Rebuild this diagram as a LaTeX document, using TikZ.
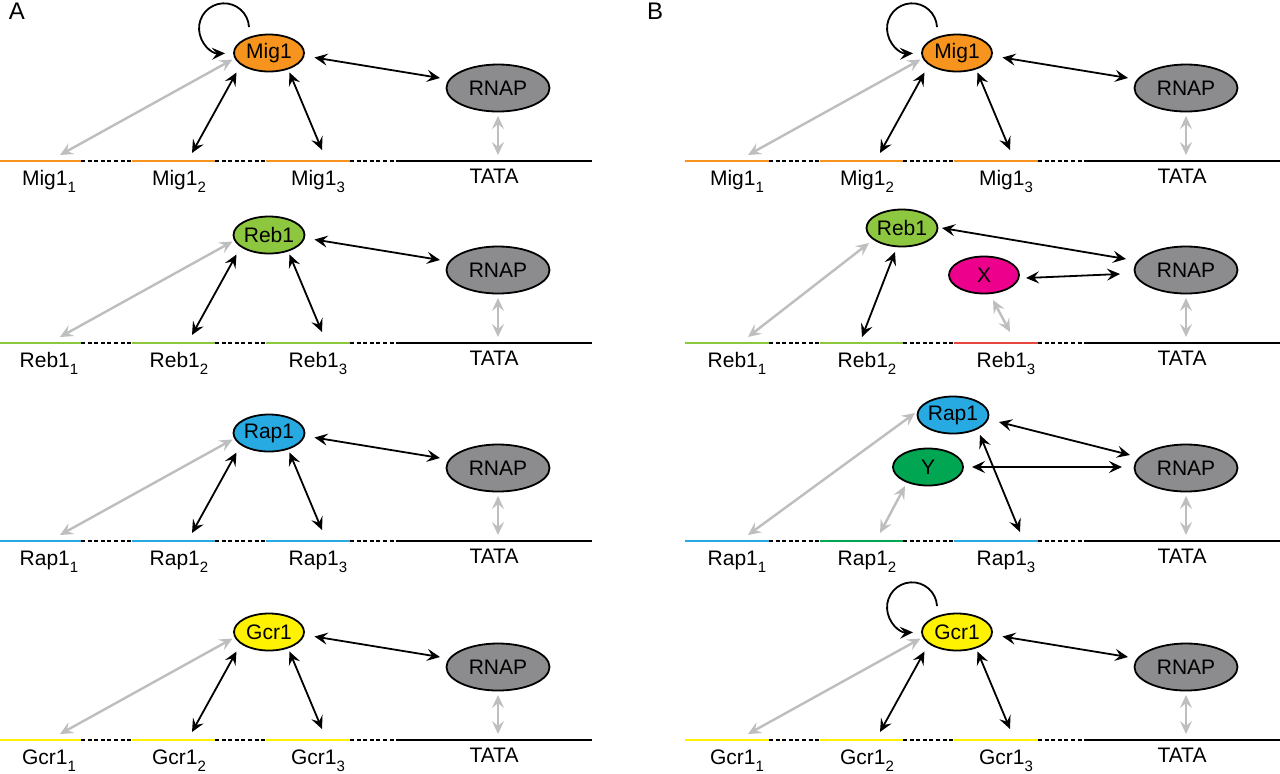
\documentclass[tikz,border=0pt]{standalone}
\usepackage{fontspec}
\setmainfont{Liberation Sans}
\usetikzlibrary{shapes,arrows.meta,positioning,calc}
\definecolor{migorange}{HTML}{F7941D}
\definecolor{rebgreen}{HTML}{8DC63F}
\definecolor{rapblue}{HTML}{27AAE1}
\definecolor{gcryellow}{HTML}{FFF200}
\definecolor{xmagenta}{HTML}{EC008C}
\definecolor{ygreen}{HTML}{00A651}
\definecolor{xred}{HTML}{E8473F}
\definecolor{rnapgray}{HTML}{8C8C8E}
\definecolor{arrgray}{HTML}{BCBEC0}

\tikzset{bindtip/.tip={Stealth[length=6.5pt,width=6pt,inset=2.5pt]}}

\newcommand{\sitesub}[1]{\raisebox{-3.5pt}{\fontsize{7.5}{9}\selectfont #1}}

% promoter line: x0, line y, prefix, three site colours, factor name
\newcommand{\dnaline}[7]{%
  \coordinate (#3o) at (#1,-#2);
  \draw[seg,draw=#4] (#3o) -- ++(84,0);
  \draw[gap] ($(#3o)+(84,0)$) -- ++(51,0);
  \draw[seg,draw=#5] ($(#3o)+(135,0)$) -- ++(83,0);
  \draw[gap] ($(#3o)+(218,0)$) -- ++(51,0);
  \draw[seg,draw=#6] ($(#3o)+(269,0)$) -- ++(84,0);
  \draw[gap] ($(#3o)+(353,0)$) -- ++(47,0);
  \draw[seg] ($(#3o)+(400,0)$) -- ++(195,0);
  \node[site] (#3l1) at ($(#3o)+(52,-24)$) {#7\sitesub{1}};
  \node[site] (#3l2) at ($(#3o)+(182,-24)$) {#7\sitesub{2}};
  \node[site] (#3l3) at ($(#3o)+(321,-24)$) {#7\sitesub{3}};
  \node[site] (#3l4) at ($(#3o)+(497,-22)$) {TATA};
  \coordinate (#3s1) at ($(#3o)+(63,6)$);
  \coordinate (#3s2) at ($(#3o)+(195,8)$);
  \coordinate (#3s3) at ($(#3o)+(325,11)$);
  \coordinate (#3t) at ($(#3o)+(501,6)$);
  \node[rnap] (#3pol) at ($(#3o)+(501,73)$) {RNAP};
  \draw[gr,line width=1.4pt] ($(#3pol)+(0,-28)$) -- (#3t);
}

% plain row: factor binding its three sites
\newcommand{\stdrow}[5]{%
  \dnaline{#1}{#2}{#3}{#4}{#4}{#4}{#5}
  \node[tf,fill=#4] (#3tf) at ($(#3o)+(272,108)$) {#5};
  \draw[gr] ($(#3tf)+(-36.5,-6.5)$) -- (#3s1);
  \draw[bk] ($(#3tf)+(-32.5,-19.5)$) -- (#3s2);
  \draw[bk] ($(#3tf)+(20.5,-19.5)$) -- (#3s3);
  \draw[bk] ($(#3tf)+(45.5,-4.5)$) -- ($(#3pol)+(-58,10)$);
}

\newcommand{\selfloop}[1]{%
  \draw[bk,arrows={-bindtip}] ($(#1tf)+(-20,26)$) arc[start angle=3,end angle=272,radius=25];
}

\begin{document}
\begin{tikzpicture}[x=0.5pt,y=0.5pt,
  font=\fontsize{10.5}{12.5}\selectfont,
  seg/.style={line width=1.3pt},
  gap/.style={line width=1.2pt,dash pattern=on 2pt off 1.3pt},
  tf/.style={ellipse,draw,line width=0.9pt,minimum width=35pt,minimum height=18.5pt,inner sep=0pt},
  rnap/.style={ellipse,draw,line width=0.9pt,fill=rnapgray,minimum width=51.5pt,minimum height=23.5pt,inner sep=0pt},
  bk/.style={line width=0.9pt,arrows={bindtip-bindtip}},
  gr/.style={line width=1.2pt,draw=arrgray,arrows={bindtip-bindtip}},
  site/.style={anchor=base},
  panel/.style={font=\fontsize{12}{14}\selectfont}]
\path[fill=white,use as bounding box] (0,0) rectangle (1280,-773);

\node[panel] (panelA) at (17,-11) {A};
\node[panel] (panelB) at (655,-11) {B};

% A: each factor alone
\stdrow{-3}{161}{A1}{migorange}{Mig1}
\selfloop{A1}
\stdrow{-3}{343}{A2}{rebgreen}{Reb1}
\stdrow{-3}{541}{A3}{rapblue}{Rap1}
\stdrow{-3}{740}{A4}{gcryellow}{Gcr1}

% B: Mig1
\stdrow{685}{161}{B1}{migorange}{Mig1}
\selfloop{B1}

% B: Reb1 with X on the third site
\dnaline{685}{343}{B2}{rebgreen}{rebgreen}{xred}{Reb1}
\node[tf,fill=rebgreen] (B2tf) at ($(B2o)+(217,115)$) {Reb1};
\node[tf,fill=xmagenta] (B2x) at ($(B2o)+(299,68)$) {X};
\coordinate (B2e2) at ($(B2o)+(177,6)$);
\draw[gr] ($(B2tf)+(-33,-15)$) -- (B2s1);
\draw[bk] ($(B2tf)+(-7,-24)$) -- (B2e2);
\draw[gr] ($(B2x)+(9,-25)$) -- (B2s3);
\draw[bk] ($(B2tf)+(40,0)$) -- ($(B2pol)+(-60,11)$);
\draw[bk] ($(B2x)+(42,-3)$) -- ($(B2pol)+(-66,-4)$);

% B: Rap1 with Y on the second site
\dnaline{685}{541}{B3}{rapblue}{ygreen}{rapblue}{Rap1}
\node[tf,fill=rapblue] (B3tf) at ($(B3o)+(268,126)$) {Rap1};
\node[tf,fill=ygreen] (B3y) at ($(B3o)+(243,74)$) {Y};
\coordinate (B3e3) at ($(B3o)+(335,9)$);
\draw[gr] ($(B3tf)+(-38,2)$) -- (B3s1);
\draw[gr] ($(B3y)+(-23,-19)$) -- (B3s2);
\draw[bk] ($(B3tf)+(27,-20)$) -- (B3e3);
\draw[bk] ($(B3tf)+(46,-7)$) -- ($(B3pol)+(-56,13)$);
\draw[bk] ($(B3y)+(44,0)$) -- ($(B3pol)+(-64,1)$);

% B: Gcr1
\stdrow{685}{740}{B4}{gcryellow}{Gcr1}
\selfloop{B4}
\end{tikzpicture}
\end{document}
